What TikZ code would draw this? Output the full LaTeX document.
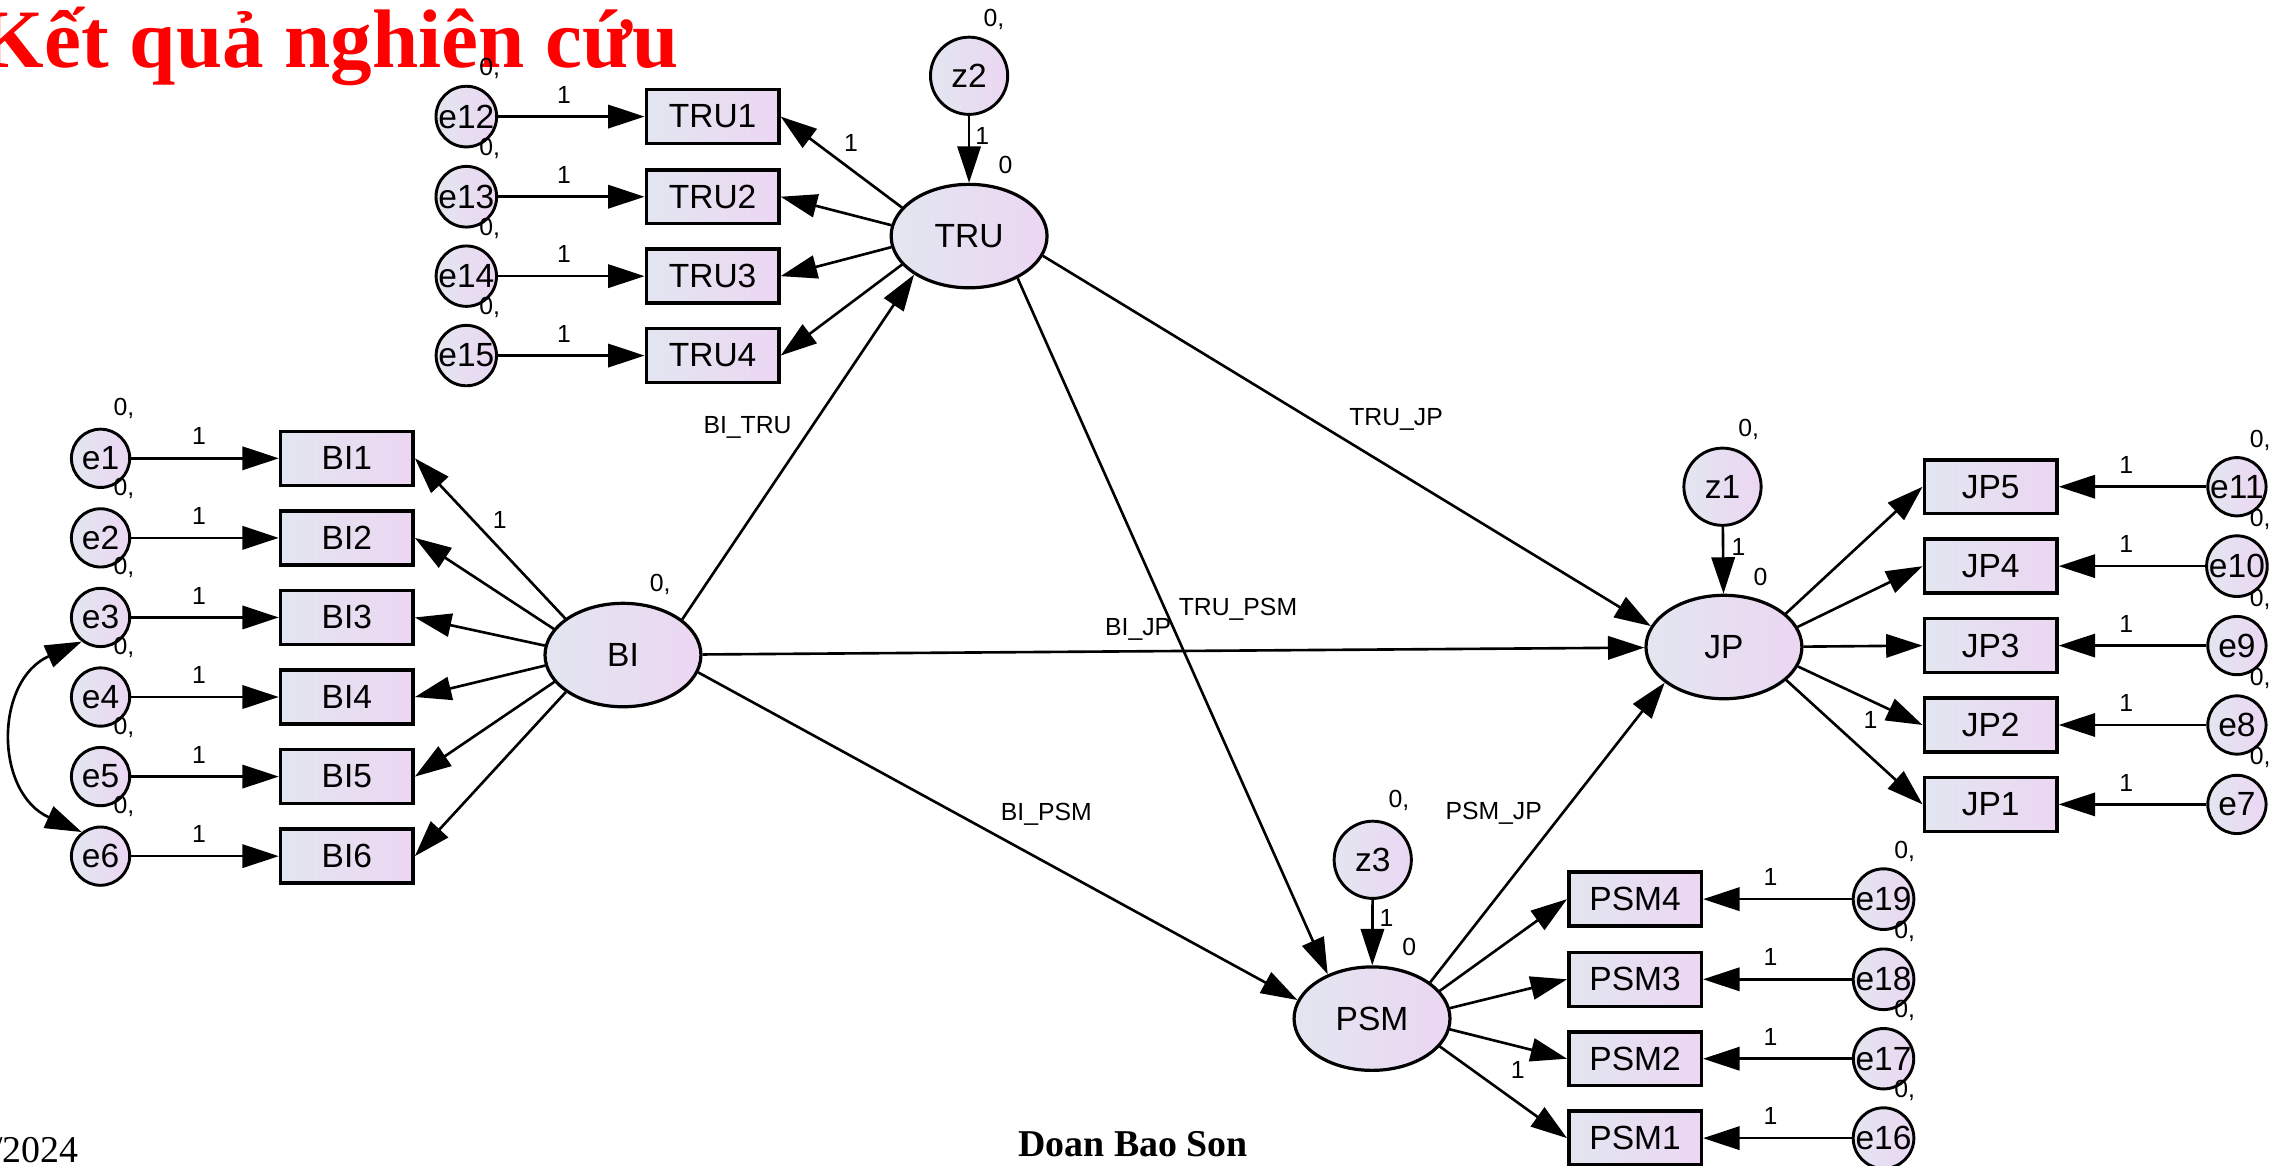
\documentclass[tikz,border=0pt]{standalone}
\usepackage{fontspec}
\setmainfont{Liberation Serif}
\newfontfamily\amos{Liberation Sans}
\usetikzlibrary{arrows.meta,shapes.geometric,calc}
\definecolor{fillL}{RGB}{226,230,240}
\definecolor{fillR}{RGB}{236,214,242}
\tikzset{
  nodefont/.style={font=\amos\fontsize{23}{23}\selectfont},
  obs/.style={draw=black, line width=2.4pt, rectangle, minimum width=91pt, minimum height=37pt,
    inner sep=0pt, left color=fillL, right color=fillR, nodefont},
  err/.style={draw=black, line width=2pt, circle, minimum size=40pt, inner sep=0pt,
    left color=fillL, right color=fillR, nodefont},
  dist/.style={err, minimum size=53pt},
  lat/.style={draw=black, line width=2.2pt, ellipse, minimum width=107pt, minimum height=71pt,
    inner sep=0pt, left color=fillL, right color=fillR, nodefont},
  arr/.style={line width=1.8pt, -{Triangle[length=25pt,width=16pt]}},
  bothtip/.style={line width=1.8pt, {Triangle[length=25pt,width=16pt]}-{Triangle[length=25pt,width=16pt]}},
  lbl/.style={font=\amos\fontsize{17}{17}\selectfont, inner sep=0pt},
}
% loading path from a latent ellipse (#1) to an indicator anchor (#2),
% starting at the ellipse point with the same parametric angle
\newcommand\fanline[2]{%
  \draw[arr] let \p1=($(#2)-(#1)$), \n1={atan2(\y1,\x1)} in
    ($(#1)+({54.5pt*cos(\n1)},{36.5pt*sin(\n1)})$) -- (#2);}
\begin{document}
\begin{tikzpicture}[x=1pt,y=-1pt]
\useasboundingbox (0,0) rectangle (1568,800);

% title and footer
\node[anchor=base west, inner sep=0pt, text=red, font=\bfseries\fontsize{57}{57}\selectfont] (title) at (-14,46) {Kết quả nghiên cứu};
\node[anchor=base, inner sep=0pt, font=\bfseries\fontsize{26}{26}\selectfont] (author) at (777.5,793.5) {Doan Bao Son};
\node[anchor=base east, inner sep=0pt, font=\fontsize{26}{26}\selectfont] (date) at (54,797.5) {/2024};

% latent variables
\node[lat] (TRU) at (665,162) {TRU};
\node[lat] (BI) at (427.5,449.5) {BI};
\node[lat] (JP) at (1183,444) {JP};
\node[lat] (PSM) at (941.5,699) {PSM};

% disturbances
\node[dist] (z2) at (665,52) {z2};
\node[dist] (z1) at (1182,334) {z1};
\node[dist] (z3) at (942,590) {z3};
\draw[arr] (z2) -- (TRU);
\draw[arr] (z1) -- (JP);
\draw[arr] (z3) -- (PSM);
\node[lbl] (z2v) at (682,13) {0,};
\node[lbl] (z2w) at (674,93) {1};
\node[lbl] (TRUm) at (690,113) {0};
\node[lbl] (z1v) at (1200,295) {0,};
\node[lbl] (z1w) at (1193,375) {1};
\node[lbl] (JPm) at (1208,396) {0};
\node[lbl] (z3v) at (960,549) {0,};
\node[lbl] (z3w) at (951.5,630) {1};
\node[lbl] (PSMm) at (967,650) {0};
\node[lbl] (BIv) at (453,401) {0,};

% TRU indicators
\foreach \i/\e/\yy in {1/12/80,2/13/135,3/14/189.5,4/15/244}{
  \node[err] (e\e) at (320,\yy) {e\e};
  \node[obs] (TRU\i) at (489,\yy) {TRU\i};
  \draw[arr] (e\e) -- (TRU\i);
  \node[lbl] at (387,\yy-15) {1};
  \node[lbl] at (336,\yy-33) {0,};
}
\foreach \i in {1,2,3,4}{\fanline{TRU}{TRU\i.east}}
\node[lbl] (tw) at (584,98) {1};

% BI indicators
\foreach \i/\yy in {1/314.5,2/369.1,3/423.7,4/478.3,5/532.9,6/587.5}{
  \node[err] (e\i) at (69,\yy) {e\i};
  \node[obs] (BI\i) at (238,\yy) {BI\i};
  \draw[arr] (e\i) -- (BI\i);
  \node[lbl] at (136.5,\yy-15) {1};
  \node[lbl] at (85,\yy-34) {0,};
}
\foreach \i in {1,...,6}{\fanline{BI}{BI\i.east}}
\node[lbl] (bw) at (343,357) {1};
\draw[bothtip] (e3.-128) .. controls (-4,467) and (-4,544) .. (e6.128);

% JP indicators
\foreach \i/\e/\yy in {5/11/334,4/10/388.5,3/9/443,2/8/497.5,1/7/552}{
  \node[err] (e\e) at (1535,\yy) {e\e};
  \node[obs] (JP\i) at (1366,\yy) {JP\i};
  \draw[arr] (e\e) -- (JP\i);
  \node[lbl] at (1459,\yy-15) {1};
  \node[lbl] at (1551,\yy-32) {0,};
}
\foreach \i in {1,...,5}{\fanline{JP}{JP\i.west}}
\node[lbl] (jw) at (1283.5,494) {1};

% PSM indicators
\foreach \i/\e/\yy in {4/19/617,3/18/672,2/17/726.5,1/16/781}{
  \node[err] (e\e) at (1292.5,\yy) {e\e};
  \node[obs] (PSM\i) at (1122,\yy) {PSM\i};
  \draw[arr] (e\e) -- (PSM\i);
  \node[lbl] at (1215,\yy-15) {1};
  \node[lbl] at (1307,\yy-33) {0,};
}
\foreach \i in {1,...,4}{\fanline{PSM}{PSM\i.west}}
\node[lbl] (pw) at (1041.5,734.4) {1};

% structural paths
\draw[arr] (BI.31) -- (TRU.215);
\draw[arr] (BI) -- (JP);
\draw[arr] (BI.-13) -- (PSM.166);
\draw[arr] (TRU.-15) -- (JP.164);
\draw[arr] (TRU.-41) -- (PSM.135);
\draw[arr] (PSM.32) -- (JP.211);
\node[lbl] (l1) at (513,293) {BI\_TRU};
\node[lbl] (l2) at (781,432) {BI\_JP};
\node[lbl] (l3) at (718,559) {BI\_PSM};
\node[lbl] (l4) at (958,288) {TRU\_JP};
\node[lbl] (l5) at (849.5,418) {TRU\_PSM};
\node[lbl] (l6) at (1025,558) {PSM\_JP};
\end{tikzpicture}
\end{document}
